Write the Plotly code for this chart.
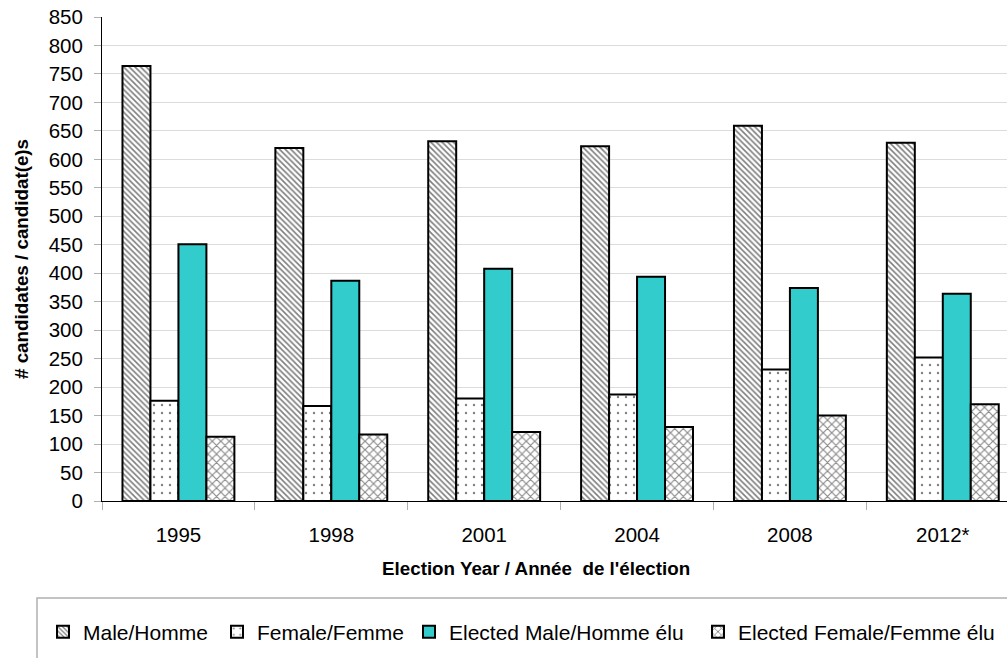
import plotly.graph_objects as go

years = ["1995", "1998", "2001", "2004", "2008", "2012*"]
male = [764, 620, 632, 623, 659, 629]
female = [176, 167, 180, 187, 231, 252]
elected_male = [451, 387, 408, 394, 374, 364]
elected_female = [113, 117, 121, 130, 150, 170]

series_names = ["Male/Homme", "Female/Femme", "Elected Male/Homme élu", "Elected Female/Femme élu"]

W, H = 1007, 658
L, R, T, B = 102, 0, 17, 157
pw = W - L - R
ph = H - T - B

def px(x):
    return (x - L) / pw

def py(y):
    return (H - B - y) / ph

FONT = "Liberation Sans, Arial, sans-serif"

fig = go.Figure()
styles = [
    dict(color="white", pattern=dict(shape="\\", size=4, solidity=0.4, fgcolor="black", bgcolor="white")),
    dict(color="white", pattern=dict(shape=".", size=8, solidity=0.07, fgcolor="black", bgcolor="white")),
    dict(color="#33CCCC"),
    dict(color="white", pattern=dict(shape="x", size=6, solidity=0.35, fgcolor="#111111", bgcolor="white")),
]
data = [male, female, elected_male, elected_female]
legends = ["legend", "legend2", "legend3", "legend4"]
for name, vals, st, lg in zip(series_names, data, styles, legends):
    fig.add_trace(go.Bar(
        x=years, y=vals, name=name, legend=lg,
        marker=dict(line=dict(color="black", width=2), **st),
    ))

text_starts = [83, 257, 449, 738]
leg_y = py(632)
leg_common = dict(orientation="h", yanchor="middle", xanchor="left", y=leg_y,
                  font=dict(family=FONT, size=21, color="black"),
                  bgcolor="rgba(0,0,0,0)", borderwidth=0, itemwidth=30,
                  itemclick=False)
layout_leg = {}
for lg, ts in zip(legends, text_starts):
    layout_leg[lg] = dict(x=px(ts - 40), **leg_common)

fig.update_layout(
    width=W, height=H,
    margin=dict(l=L, r=R, t=T, b=B, pad=0),
    paper_bgcolor="white", plot_bgcolor="white",
    barmode="group", bargap=0.268, bargroupgap=0,
    font=dict(family=FONT, size=20, color="black"),
    showlegend=True,
    **layout_leg,
)

fig.update_xaxes(
    type="category", range=[-0.5, 5.42],
    showline=True, linecolor="black", linewidth=1,
    ticks="outside", tickson="boundaries", ticklen=8, tickcolor="#b0b0b0",
    tickfont=dict(family=FONT, size=20.5, color="black"),
    ticklabelstandoff=15,
    showgrid=False, zeroline=False,
)
fig.update_yaxes(
    range=[0, 850], dtick=50, tick0=0,
    showline=True, linecolor="black", linewidth=1,
    ticks="outside", ticklen=7, tickcolor="#b0b0b0",
    tickfont=dict(family=FONT, size=20.5, color="black"),
    ticklabelstandoff=7,
    showgrid=True, gridcolor="#dcdcdc", gridwidth=1,
    zeroline=False,
)

# axis titles
fig.add_annotation(text="<b>Election Year / Année\u00a0 de l'élection</b>",
                   xref="paper", yref="paper", x=px(536), y=py(568),
                   xanchor="center", yanchor="middle", showarrow=False,
                   font=dict(family=FONT, size=18.8, color="black"))
fig.add_annotation(text="<b># candidates / candidat(e)s</b>",
                   xref="paper", yref="paper", x=px(21), y=py(259),
                   xanchor="center", yanchor="middle", showarrow=False, textangle=-90,
                   font=dict(family=FONT, size=18.8, color="black"))

# legend frame
fig.add_shape(type="rect", xref="paper", yref="paper",
              x0=px(37), x1=px(1012), y0=py(598), y1=py(668),
              line=dict(color="#b0b0b0", width=1.5), fillcolor="rgba(0,0,0,0)", layer="above")

fig.write_html("out.html", config={"displayModeBar": False},
               post_script="document.body.style.margin='0';")
